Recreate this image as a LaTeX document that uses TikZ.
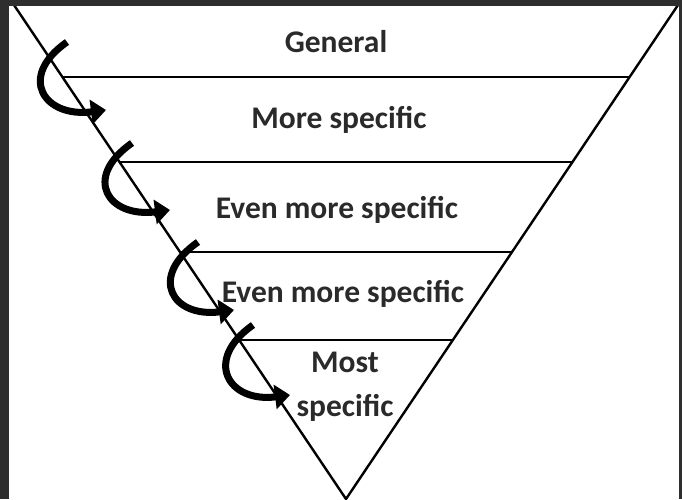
\documentclass[tikz,border=0pt]{standalone}
\usepackage{fontspec}
\setmainfont{Carlito}
\usetikzlibrary{calc,arrows.meta}

\definecolor{framegray}{HTML}{2E2E2E}
\definecolor{labelgray}{HTML}{2A2A2A}

\begin{document}
\begin{tikzpicture}[x=1pt,y=-1pt,
		tier/.style={font=\fontsize{31.5}{44}\selectfont\bfseries, text=labelgray, align=center, inner sep=0pt},
		rim/.style={line width=2.4pt, black},
		curl/.style={line width=7pt, black, -{Triangle[length=15pt,width=24pt]}}]
		\useasboundingbox (0,0) rectangle (682,499);
		\fill[white] (0,0) rectangle (682,499);

		% corners of the funnel
		\coordinate (tl) at (14,5);
		\coordinate (tr) at (678,5);
		\coordinate (apex) at (346,499);
		\draw[rim] (tl) -- (apex) -- (tr);

		% dividing lines
		\foreach \f [count=\i] in {0.146,0.318,0.5,0.678} {
			\coordinate (l\i) at ($(tl)!\f!(apex)$);
			\coordinate (r\i) at ($(tr)!\f!(apex)$);
			\draw[rim] (l\i) -- (r\i);
		}

		\node[tier] (general) at (336,42) {General};
		\node[tier] (more) at (339,120) {More specific};
		\node[tier] (even1) at (337,210) {Even more specific};
		\node[tier] (even2) at (343,294) {Even more specific};
		\node[tier] (most) at (345,387) {Most\\specific};

		% curled arrows down the left side
		\foreach \tx/\ty/\hx/\hy [count=\i] in {67/42/106/110, 132/143/170/210, 198/242/234/310, 253/325/290/395} {
			\coordinate (tail\i) at (\tx,\ty);
			\coordinate (head\i) at (\hx,\hy);
			\draw[curl] (tail\i) .. controls +(-50,35) and +(-62,8) .. (head\i);
		}

		% dark frame
		\fill[framegray] (0,0) rectangle (9,499);
		\fill[framegray] (0,0) rectangle (682,6);
		\fill[framegray] (679,0) rectangle (682,499);
	\end{tikzpicture}
\end{document}
